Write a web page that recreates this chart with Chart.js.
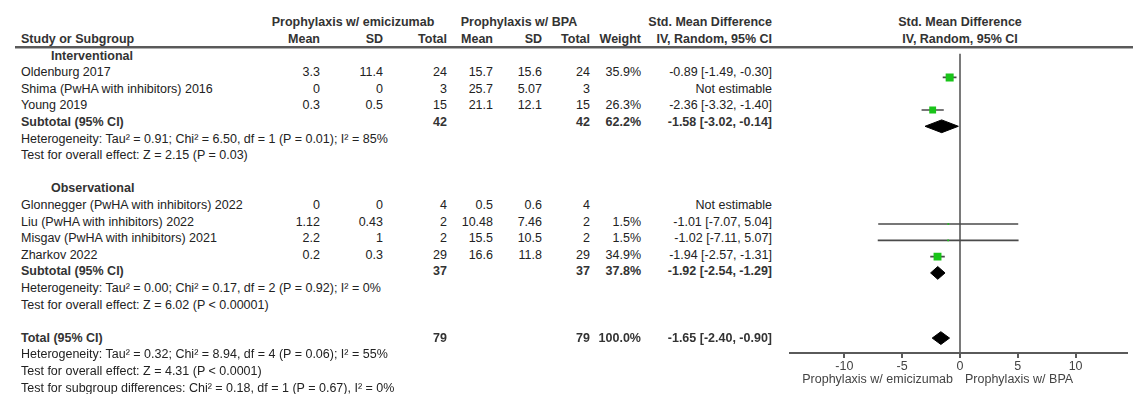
<!DOCTYPE html>
<html>
<head>
<meta charset="utf-8">
<script src="https://cdn.jsdelivr.net/npm/chart.js@4/dist/chart.umd.min.js"></script>
<style>
  html, body { margin: 0; padding: 0; background: #fff; }
  #wrap { position: relative; width: 1133px; height: 394px; overflow: hidden;
          font-family: "Liberation Sans", Arial, sans-serif; font-size: 12.5px; color: #222; }
  .t { position: absolute; white-space: nowrap; line-height: 16px; height: 16px; }
  .b { font-weight: bold; color: #333; }
  #rule { position: absolute; left: 15px; right: 0; top: 46px; height: 2px; background: #5a5a5a;
          border-bottom: 1px solid #b0b0b0; z-index: 2; }
  #plot { position: absolute; left: 784px; top: 48px; }
</style>
</head>
<body>
<div id="wrap">
  <canvas id="plot" width="349" height="346"></canvas>
  <div id="rule"></div>
</div>
<script>
// ---- study data ----
const groupLabels = ['Interventional', 'Observational'];
const studyNames = ['Oldenburg 2017', 'Shima (PwHA with inhibitors) 2016', 'Young 2019',
  'Glonnegger (PwHA with inhibitors) 2022', 'Liu (PwHA with inhibitors) 2022',
  'Misgav (PwHA with inhibitors) 2021', 'Zharkov 2022'];
const studyGroup = [0, 0, 0, 1, 1, 1, 1];
const emiMean = [3.3, 0, 0.3, 0, 1.12, 2.2, 0.2];
const emiSD = [11.4, 0, 0.5, 0, 0.43, 1, 0.3];
const emiTotal = [24, 3, 15, 4, 2, 2, 29];
const bpaMean = [15.7, 25.7, 21.1, 0.5, 10.48, 15.5, 16.6];
const bpaSD = [15.6, 5.07, 12.1, 0.6, 7.46, 10.5, 11.8];
const bpaTotal = [24, 3, 15, 4, 2, 2, 29];
const studyWeight = [35.9, null, 26.3, null, 1.5, 1.5, 34.9];
const studySMD = [-0.89, null, -2.36, null, -1.01, -1.02, -1.94];
const studyLow = [-1.49, null, -3.32, null, -7.07, -7.11, -2.57];
const studyHigh = [-0.30, null, -1.40, null, 5.04, 5.07, -1.31];

// subgroup summaries
const subEmiTotal = [42, 37];
const subBpaTotal = [42, 37];
const subWeight = [62.2, 37.8];
const subSMD = [-1.58, -1.92];
const subLow = [-3.02, -2.54];
const subHigh = [-0.14, -1.29];
const subHeterogeneity = [
  'Heterogeneity: Tau\u00b2 = 0.91; Chi\u00b2 = 6.50, df = 1 (P = 0.01); I\u00b2 = 85%',
  'Heterogeneity: Tau\u00b2 = 0.00; Chi\u00b2 = 0.17, df = 2 (P = 0.92); I\u00b2 = 0%'];
const subEffect = ['Test for overall effect: Z = 2.15 (P = 0.03)',
  'Test for overall effect: Z = 6.02 (P < 0.00001)'];

// overall
const totalEmi = 79, totalBpa = 79, totalWeight = 100.0;
const totalSMD = -1.65, totalLow = -2.40, totalHigh = -0.90;
const totalNotes = [
  'Heterogeneity: Tau\u00b2 = 0.32; Chi\u00b2 = 8.94, df = 4 (P = 0.06); I\u00b2 = 55%',
  'Test for overall effect: Z = 4.31 (P < 0.0001)',
  'Test for subgroup differences: Chi\u00b2 = 0.18, df = 1 (P = 0.67), I\u00b2 = 0%'];

const xTicks = [-10, -5, 0, 5, 10];
const axisLabels = ['Prophylaxis w/ emicizumab', 'Prophylaxis w/ BPA'];

// ---- layout ----
const FIRST_ROW_Y = 39, PITCH = 16.6;
const rowY = r => FIRST_ROW_Y + (r - 1) * PITCH;
const COL = { name: 21, group: 51, emiMean: 320, emiSD: 383, emiTotal: 447,
  bpaMean: 493, bpaSD: 542, bpaTotal: 590, weight: 641, effect: 772 };
const wrap = document.getElementById('wrap');

function put(text, x, y, align, bold, color) {
  const d = document.createElement('div');
  d.className = 't' + (bold ? ' b' : '');
  d.textContent = text;
  d.style.top = (y - 8) + 'px';
  if (color) d.style.color = color;
  if (align === 'left') {
    d.style.left = x + 'px';
  } else if (align === 'right') {
    d.style.left = (x - 300) + 'px'; d.style.width = '300px'; d.style.textAlign = 'right';
  } else {
    d.style.left = (x - 150) + 'px'; d.style.width = '300px'; d.style.textAlign = 'center';
  }
  wrap.appendChild(d);
}
const fmtCI = (m, lo, hi) => `${m.toFixed(2)} [${lo.toFixed(2)}, ${hi.toFixed(2)}]`;

// header
put('Prophylaxis w/ emicizumab', 353, rowY(0), 'center', true);
put('Prophylaxis w/ BPA', 519, rowY(0), 'center', true);
put('Std. Mean Difference', COL.effect, rowY(0), 'right', true);
put('Std. Mean Difference', 960, rowY(0), 'center', true);
put('Study or Subgroup', COL.name, rowY(1), 'left', true);
put('Mean', COL.emiMean, rowY(1), 'right', true);
put('SD', COL.emiSD, rowY(1), 'right', true);
put('Total', COL.emiTotal, rowY(1), 'right', true);
put('Mean', COL.bpaMean, rowY(1), 'right', true);
put('SD', COL.bpaSD, rowY(1), 'right', true);
put('Total', COL.bpaTotal, rowY(1), 'right', true);
put('Weight', COL.weight, rowY(1), 'right', true);
put('IV, Random, 95% CI', COL.effect, rowY(1), 'right', true);
put('IV, Random, 95% CI', 960, rowY(1), 'center', true);

// body rows; collect plot rows
const studyRow = [], subRow = [];
let row = 2;
groupLabels.forEach((g, gi) => {
  put(g, COL.group, rowY(row), 'left', true);
  row++;
  studyNames.forEach((name, i) => {
    if (studyGroup[i] !== gi) return;
    const y = rowY(row);
    put(name, COL.name, y, 'left');
    put(String(emiMean[i]), COL.emiMean, y, 'right');
    put(String(emiSD[i]), COL.emiSD, y, 'right');
    put(String(emiTotal[i]), COL.emiTotal, y, 'right');
    put(String(bpaMean[i]), COL.bpaMean, y, 'right');
    put(String(bpaSD[i]), COL.bpaSD, y, 'right');
    put(String(bpaTotal[i]), COL.bpaTotal, y, 'right');
    if (studySMD[i] === null) {
      put('Not estimable', COL.effect, y, 'right');
    } else {
      put(studyWeight[i].toFixed(1) + '%', COL.weight, y, 'right');
      put(fmtCI(studySMD[i], studyLow[i], studyHigh[i]), COL.effect, y, 'right');
    }
    studyRow[i] = row;
    row++;
  });
  let y = rowY(row);
  put('Subtotal (95% CI)', COL.name, y, 'left', true);
  put(String(subEmiTotal[gi]), COL.emiTotal, y, 'right', true);
  put(String(subBpaTotal[gi]), COL.bpaTotal, y, 'right', true);
  put(subWeight[gi].toFixed(1) + '%', COL.weight, y, 'right', true);
  put(fmtCI(subSMD[gi], subLow[gi], subHigh[gi]), COL.effect, y, 'right', true);
  subRow[gi] = row;
  row++;
  put(subHeterogeneity[gi], COL.name, rowY(row++), 'left');
  put(subEffect[gi], COL.name, rowY(row++), 'left');
  row++;
});
const totalRow = row;
put('Total (95% CI)', COL.name, rowY(row), 'left', true);
put(String(totalEmi), COL.emiTotal, rowY(row), 'right', true);
put(String(totalBpa), COL.bpaTotal, rowY(row), 'right', true);
put(totalWeight.toFixed(1) + '%', COL.weight, rowY(row), 'right', true);
put(fmtCI(totalSMD, totalLow, totalHigh), COL.effect, rowY(row), 'right', true);
row++;
totalNotes.forEach(n => put(n, COL.name, rowY(row++), 'left'));

// axis captions under the plot
put(axisLabels[0], 953, 379, 'right', false, '#444');
put(axisLabels[1], 965, 379, 'left', false, '#444');

// ---- forest plot ----
const PLOT_TOP = 48, AXIS_Y = 353, X0 = 960, PX_PER_UNIT = 11.95;
const yMin = 1 + (PLOT_TOP - FIRST_ROW_Y) / PITCH;
const yMax = 1 + (AXIS_Y - FIRST_ROW_Y) / PITCH;
const xMin = (784 - X0) / PX_PER_UNIT;
const xMax = (1133 - X0) / PX_PER_UNIT;
const DIAMOND_HALF = 6.5 / PITCH;

const datasets = [];
// confidence interval whiskers
studySMD.forEach((m, i) => {
  if (m === null) return;
  datasets.push({
    data: [{ x: studyLow[i], y: studyRow[i] }, { x: studyHigh[i], y: studyRow[i] }],
    borderColor: '#4a4a4a', borderWidth: 1.6, pointRadius: 0, fill: false, order: 2
  });
});
// weighted squares
const sq = studySMD.map((m, i) => m === null ? null : { x: m, y: studyRow[i], w: studyWeight[i] })
  .filter(Boolean);
datasets.push({
  data: sq.map(p => ({ x: p.x, y: p.y })),
  showLine: false, pointStyle: 'rect',
  pointRadius: sq.map(p => 1.335 * Math.sqrt(p.w) / Math.SQRT2),
  backgroundColor: '#19c419', borderWidth: 0, order: 1
});
// pooled diamonds
function diamond(m, lo, hi, r) {
  return {
    data: [{ x: lo, y: r }, { x: m, y: r - DIAMOND_HALF }, { x: hi, y: r },
           { x: m, y: r + DIAMOND_HALF }, { x: lo, y: r }],
    borderColor: '#000', borderWidth: 1, backgroundColor: '#000',
    fill: 'shape', pointRadius: 0, tension: 0, order: 0
  };
}
subSMD.forEach((m, gi) => datasets.push(diamond(m, subLow[gi], subHigh[gi], subRow[gi])));
datasets.push(diamond(totalSMD, totalLow, totalHigh, totalRow));

new Chart(document.getElementById('plot'), {
  type: 'line',
  data: { datasets },
  options: {
    responsive: false, animation: false, devicePixelRatio: 1,
    layout: { padding: 0 },
    plugins: { legend: { display: false }, tooltip: { enabled: false } },
    events: [],
    scales: {
      x: {
        type: 'linear', min: xMin, max: xMax,
        afterBuildTicks: s => { s.ticks = xTicks.map(v => ({ value: v })); },
        afterFit: s => { s.height = 394 - AXIS_Y; },
        border: { display: true, color: '#5a5a5a', width: 2 },
        grid: {
          drawOnChartArea: true, drawTicks: true, tickLength: 5,
          color: c => (c.tick && c.tick.value === 0) ? '#7a7a7a' : 'rgba(0,0,0,0)',
          lineWidth: 2, tickColor: '#5a5a5a', tickWidth: 2
        },
        ticks: {
          padding: 1, color: '#444', maxRotation: 0,
          font: { family: 'Liberation Sans', size: 12.5 },
          callback: v => String(v)
        }
      },
      y: { type: 'linear', display: false, reverse: true, min: yMin, max: yMax }
    }
  }
});
</script>
</body>
</html>
